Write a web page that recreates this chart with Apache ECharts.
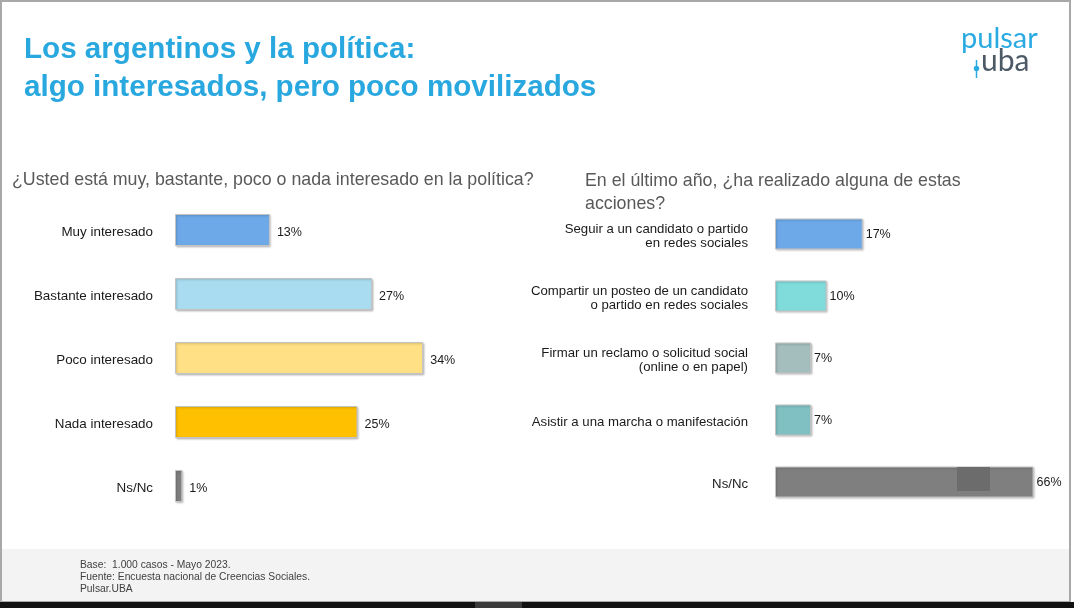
<!DOCTYPE html>
<html>
<head>
<meta charset="utf-8">
<script src="https://cdn.jsdelivr.net/npm/echarts@6/dist/echarts.min.js"></script>
<style>
html,body{margin:0;padding:0;background:#fff;}
#chart{width:1074px;height:608px;}
</style>
</head>
<body>
<div id="chart"></div>
<script>
// ---- data ----
const interestCategories = ['Muy interesado', 'Bastante interesado', 'Poco interesado', 'Nada interesado', 'Ns/Nc'];
const interestValues = [13, 27, 34, 25, 1];
const actionCategories = ['Seguir a un candidato o partido\nen redes sociales', 'Compartir un posteo de un candidato\no partido en redes sociales', 'Firmar un reclamo o solicitud social\n(online o en papel)', 'Asistir a una marcha o manifestación', 'Ns/Nc'];
const actionValues = [17, 10, 7, 7, 66];
const footerLines = ['Base:  1.000 casos - Mayo 2023.', 'Fuente: Encuesta nacional de Creencias Sociales.', 'Pulsar.UBA'];

// ---- styles ----
const interestColors = ['#6DA9E8', '#A9DCF0', '#FFE085', '#FFC000', '#7F7F7F'];
const actionColors = ['#6DA9E8', '#80DBDB', '#A4BDBD', '#80C0C2', '#7F7F7F'];
const FONT = 'Liberation Sans, Arial, sans-serif';
const TITLE_BLUE = '#29A8E0';

function items(vals, colors) {
  return vals.map((v, i) => ({ value: v, itemStyle: { color: colors[i] } }));
}
const barItemStyle = {
  borderColor: '#c4c4c4', borderWidth: 1,
  shadowColor: 'rgba(0,0,0,0.22)', shadowBlur: 2, shadowOffsetX: 1, shadowOffsetY: 1
};
// a thin spacer line on top nudges the category labels slightly downward
const spacer = v => '{s| }\n' + v;
const spacerRich = { s: { fontSize: 1, lineHeight: 5 } };

const chart = echarts.init(document.getElementById('chart'), null, { renderer: 'canvas' });
chart.setOption({
  backgroundColor: '#ffffff',
  animation: false,
  textStyle: { fontFamily: FONT },
  grid: [
    { left: 175, top: 198, width: 365, height: 320 },
    { left: 775, top: 203, width: 258, height: 310 }
  ],
  xAxis: [
    { gridIndex: 0, type: 'value', min: 0, max: 50, show: false, splitLine: { show: false } },
    { gridIndex: 1, type: 'value', min: 0, max: 50, show: false, splitLine: { show: false } }
  ],
  yAxis: [
    { gridIndex: 0, type: 'category', data: interestCategories, inverse: true,
      axisLine: { show: false }, axisTick: { show: false },
      axisLabel: { margin: 22, color: '#1a1a1a', fontSize: 13.4, lineHeight: 15, fontFamily: FONT,
        formatter: spacer, rich: spacerRich } },
    { gridIndex: 1, type: 'category', data: actionCategories, inverse: true,
      axisLine: { show: false }, axisTick: { show: false },
      axisLabel: { margin: 27, color: '#1a1a1a', fontSize: 13.2, lineHeight: 14, fontFamily: FONT, align: 'right',
        formatter: spacer, rich: spacerRich } }
  ],
  series: [
    { type: 'bar', xAxisIndex: 0, yAxisIndex: 0, data: items(interestValues, interestColors),
      barWidth: '50%', itemStyle: barItemStyle,
      label: { show: true, position: 'right', distance: 7, offset: [0, 3], formatter: '{c}%', color: '#1a1a1a', fontSize: 12.5, fontFamily: FONT } },
    { type: 'bar', xAxisIndex: 1, yAxisIndex: 1, data: items(actionValues, actionColors),
      barWidth: '50%', itemStyle: barItemStyle, clip: true,
      label: { show: true, position: 'right', distance: 3, offset: [0, 1], formatter: '{c}%', color: '#1a1a1a', fontSize: 12.5, fontFamily: FONT } }
  ],
  graphic: [
    // frame and footer band
    { type: 'rect', z: -10, shape: { x: 2, y: 549, width: 1067, height: 53 }, style: { fill: '#f3f3f3' }, silent: true },
    { type: 'rect', z: -9, shape: { x: 1, y: 1, width: 1069, height: 601 }, style: { fill: 'none', stroke: '#a8a8a8', lineWidth: 2 }, silent: true },
    { type: 'rect', z: -9, shape: { x: 0, y: 602, width: 1074, height: 6 }, style: { fill: '#111111' }, silent: true },
    { type: 'rect', z: -8, shape: { x: 475, y: 602, width: 47, height: 6 }, style: { fill: '#3a3a3a' }, silent: true },
    // titles
    { type: 'text', x: 24, y: 50, style: { text: 'Los argentinos y la política:', fill: TITLE_BLUE, font: 'bold 29.6px ' + FONT, textVerticalAlign: 'middle' } },
    { type: 'text', x: 24, y: 88, style: { text: 'algo interesados, pero poco movilizados', fill: TITLE_BLUE, font: 'bold 29.6px ' + FONT, textVerticalAlign: 'middle' } },
    // subtitles
    { type: 'text', x: 12, y: 180, style: { text: '¿Usted está muy, bastante, poco o nada interesado en la política?', fill: '#595959', font: '17.8px ' + FONT, textVerticalAlign: 'middle' } },
    { type: 'text', x: 585, y: 181, style: { text: 'En el último año, ¿ha realizado alguna de estas', fill: '#595959', font: '17.8px ' + FONT, textVerticalAlign: 'middle' } },
    { type: 'text', x: 585, y: 204, style: { text: 'acciones?', fill: '#595959', font: '17.8px ' + FONT, textVerticalAlign: 'middle' } },
    // logo
    { type: 'text', x: 961, y: 39, style: { text: 'pulsar', fill: '#29ABE2', font: '29px Lato, Roboto, sans-serif', textVerticalAlign: 'middle' } },
    { type: 'text', x: 981, y: 61, style: { text: 'uba', fill: '#4D5A66', font: '30px Lato, Roboto, sans-serif', textVerticalAlign: 'middle' } },
    { type: 'line', shape: { x1: 976.5, y1: 60, x2: 976.5, y2: 78 }, style: { stroke: '#29ABE2', lineWidth: 1.5 } },
    { type: 'circle', shape: { cx: 976.5, cy: 68.5, r: 2.7 }, style: { fill: '#29ABE2' } },
    // artefact inside the Ns/Nc bar
    { type: 'rect', z: 100, shape: { x: 957, y: 467, width: 33, height: 24 }, style: { fill: '#6c6c6c' }, silent: true },
    // footer
    { type: 'text', x: 80, y: 565, style: { text: footerLines[0], fill: '#404040', font: '10.3px ' + FONT, textVerticalAlign: 'middle' } },
    { type: 'text', x: 80, y: 577, style: { text: footerLines[1], fill: '#404040', font: '10.3px ' + FONT, textVerticalAlign: 'middle' } },
    { type: 'text', x: 80, y: 589, style: { text: footerLines[2], fill: '#404040', font: '10.3px ' + FONT, textVerticalAlign: 'middle' } }
  ]
});
</script>
</body>
</html>
